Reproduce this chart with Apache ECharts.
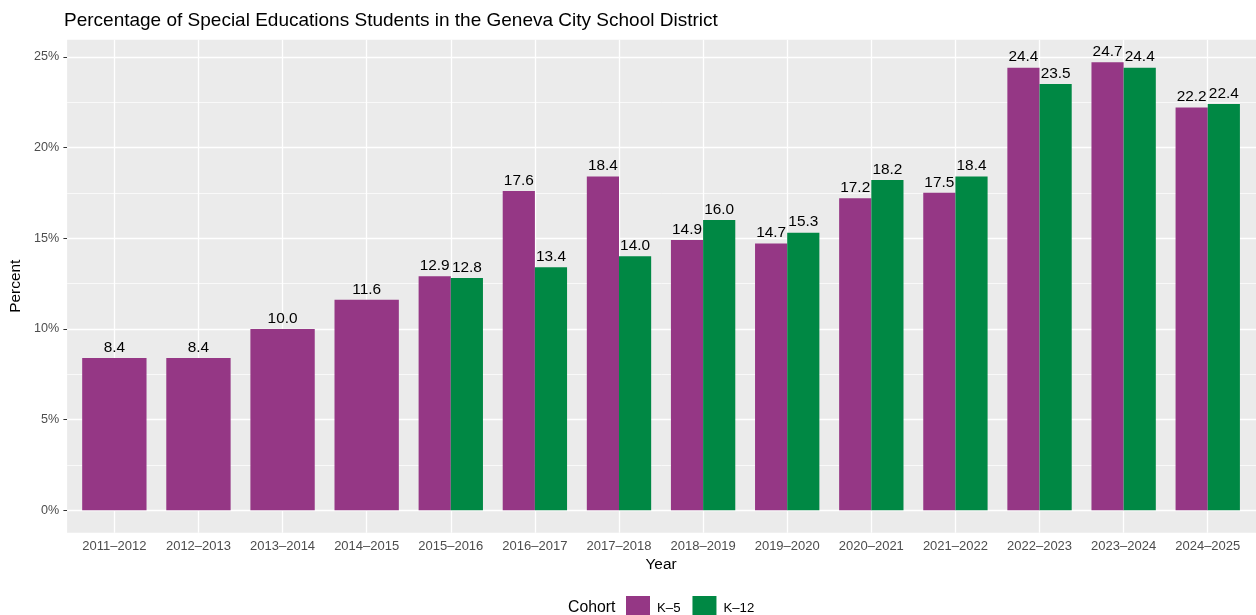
<!DOCTYPE html>
<html>
<head>
<meta charset="utf-8">
<script src="https://cdn.jsdelivr.net/npm/echarts@6/dist/echarts.min.js"></script>
<style>
html,body{margin:0;padding:0;background:#fff;}
#chart{width:1256px;height:615px;}
</style>
</head>
<body>
<div id="chart"></div>
<script>
var years = ['2011–2012','2012–2013','2013–2014','2014–2015','2015–2016','2016–2017','2017–2018',
	'2018–2019','2019–2020','2020–2021','2021–2022','2022–2023','2023–2024','2024–2025'];
var k5 = [8.4, 8.4, 10.0, 11.6, 12.9, 17.6, 18.4, 14.9, 14.7, 17.2, 17.5, 24.4, 24.7, 22.2];
var k12 = [null, null, null, null, 12.8, 13.4, 14.0, 16.0, 15.3, 18.2, 18.4, 23.5, 24.4, 22.4];
var majorTicks = [0, 5, 10, 15, 20, 25];
var minorTicks = [2.5, 7.5, 12.5, 17.5, 22.5];
var yMin = -1.235, yMax = 25.935;   // ggplot 5% expansion of 0..24.7

var purple = '#953785', green = '#008844';

// years with only K-5 get a full width bar, the others are dodged
var k5Single = k5.map(function(v,i){ return k12[i]==null ? v : null; });
var k5Dodged = k5.map(function(v,i){ return k12[i]==null ? null : v; });

var barLabel = {
	show:true, position:'top', distance:3,
	color:'#000', fontSize:15.4,
	formatter:function(p){ return p.value==null ? '' : p.value.toFixed(1); }
};

var myChart = echarts.init(document.getElementById('chart'));
var option = {
	animation:false,
	textStyle:{fontFamily:'Liberation Sans'},
	title:{
		text:'Percentage of Special Educations Students in the Geneva City School District',
		left:64, top:11, padding:0,
		textStyle:{fontSize:19, fontWeight:'normal', color:'#000'}
	},
	legend:{
		data:['K–5','K–12'],
		left:626, top:596, padding:0,
		itemWidth:24, itemHeight:24, itemGap:12,
		icon:'rect', selectedMode:false,
		textStyle:{fontSize:13.2, color:'#000', padding:[0,0,0,2]}
	},
	graphic:[{
		type:'text', left:568, top:600,
		style:{text:'Cohort', fontSize:15.8, fill:'#000', fontFamily:'Liberation Sans'}
	}],
	grid:[
		{left:64, right:0, top:39.8, bottom:82.3, show:true, backgroundColor:'#EBEBEB', borderWidth:0},
		{left:72.3, right:6.2, top:39.8, bottom:82.3}
	],
	xAxis:[
		{gridIndex:0, type:'value', min:0, max:1, show:false},
		{
			gridIndex:1, type:'category', data:years,
			name:'Year', nameLocation:'middle', nameGap:23,
			nameTextStyle:{fontSize:15.4, color:'#000'},
			axisLine:{show:false},
			axisTick:{show:true, interval:0, alignWithLabel:true, length:3.7, lineStyle:{color:'#333', width:1}},
			axisLabel:{color:'#4D4D4D', fontSize:13, margin:7, interval:0},
			splitLine:{show:false}
		},
		{gridIndex:1, type:'category', data:years, show:false}
	],
	yAxis:[
		{
			gridIndex:0, type:'value', min:yMin, max:yMax,
			name:'Percent', nameLocation:'middle', nameGap:29, nameRotate:90,
			nameTextStyle:{fontSize:15.4, color:'#000'},
			axisLine:{show:false},
			axisTick:{show:true, length:3.7, customValues:majorTicks, lineStyle:{color:'#333', width:1}},
			axisLabel:{color:'#4D4D4D', fontSize:12.6, margin:8, customValues:majorTicks, formatter:'{value}%'},
			splitLine:{show:false}
		},
		{gridIndex:1, type:'value', min:yMin, max:yMax, show:false, splitLine:{show:false}}
	],
	series:[
		{
			name:'hgrid', type:'line', xAxisIndex:0, yAxisIndex:0, data:[], z:1,
			markLine:{
				z:1, silent:true, symbol:['none','none'], label:{show:false},
				data:majorTicks.map(function(v){ return {yAxis:v, lineStyle:{color:'#fff', width:1.3, type:'solid'}}; })
					.concat(minorTicks.map(function(v){ return {yAxis:v, lineStyle:{color:'#fff', width:0.7, type:'solid'}}; }))
			}
		},
		{
			name:'vgrid', type:'line', xAxisIndex:1, yAxisIndex:1, data:[], z:1,
			markLine:{
				z:1, silent:true, symbol:['none','none'], label:{show:false},
				data:years.map(function(y){ return {xAxis:y, lineStyle:{color:'#fff', width:1.3, type:'solid'}}; })
			}
		},
		{
			name:'K–5', type:'bar', xAxisIndex:2, yAxisIndex:1, z:3,
			data:k5Single, barCategoryGap:'23.5%',
			itemStyle:{color:purple}, label:barLabel
		},
		{
			name:'K–5', type:'bar', xAxisIndex:1, yAxisIndex:1, z:3,
			data:k5Dodged, barGap:'0%', barCategoryGap:'23.5%',
			itemStyle:{color:purple}, label:barLabel
		},
		{
			name:'K–12', type:'bar', xAxisIndex:1, yAxisIndex:1, z:3,
			data:k12, barGap:'0%', barCategoryGap:'23.5%',
			itemStyle:{color:green}, label:barLabel
		}
	]
};
myChart.setOption(option);
</script>
</body>
</html>
